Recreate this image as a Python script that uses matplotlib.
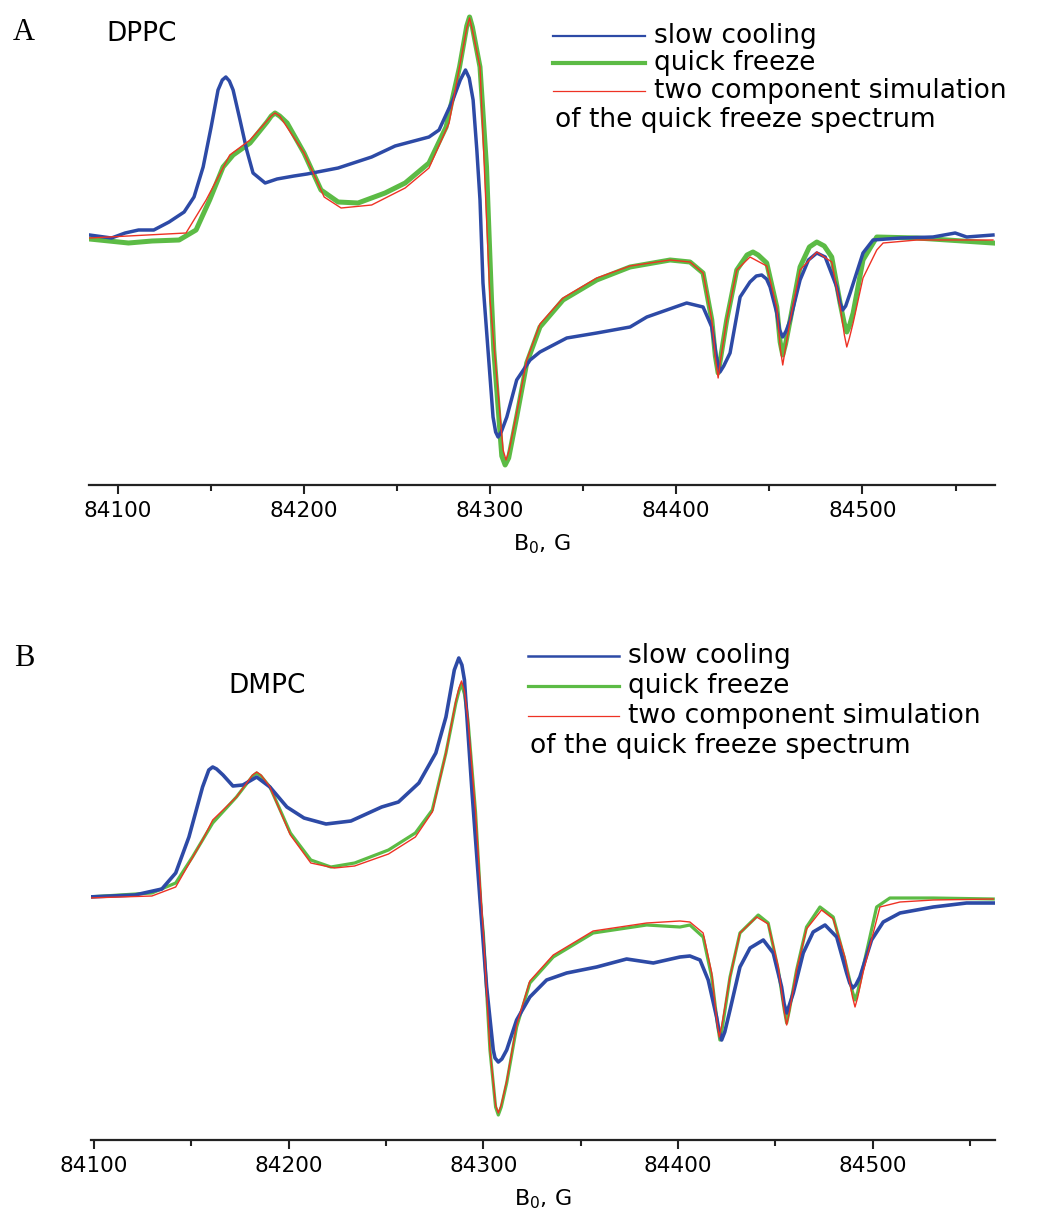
import matplotlib
matplotlib.use("Agg")
import matplotlib.pyplot as plt
from matplotlib.lines import Line2D
from matplotlib.ticker import MultipleLocator

plt.rcParams['font.family'] = ['DejaVu Sans']
plt.rcParams['mathtext.fontset'] = 'dejavusans'

# ---------------- Panel A (DPPC) ----------------
a_slow_B = [84084.9, 84096.7, 84104.0, 84111.2, 84119.4, 84127.6, 84135.7, 84141.0, 84145.9, 84150.2,
            84153.9, 84156.2, 84158.1, 84160.0, 84162.0, 84165.7, 84169.3, 84172.7, 84179.2, 84185.6,
            84194.7, 84201.7, 84218.4, 84236.4, 84249.0, 84267.2, 84272.6, 84280.0, 84284.0, 84286.8,
            84288.8, 84290.9, 84292.9, 84294.6, 84296.2, 84301.6, 84303.0, 84304.3, 84306.0, 84309.0,
            84314.3, 84321.5, 84326.8, 84341.2, 84357.3, 84375.2, 84384.2, 84394.9, 84405.6, 84414.4,
            84419.1, 84421.5, 84423.5, 84425.5, 84428.9, 84434.3, 84439.6, 84443.0, 84445.9, 84448.5,
            84450.4, 84454.0, 84455.5, 84457.2, 84459.0, 84461.2, 84466.5, 84471.0, 84475.5, 84480.0,
            84486.2, 84488.0, 84489.4, 84491.0, 84493.4, 84500.3, 84505.7, 84520.3, 84537.9, 84549.8,
            84556.0, 84570.1]
a_slow_I = [3, 0, 5, 8, 8, 16, 26, 41, 71, 111,
            148, 158, 161, 157, 148, 118, 88, 65, 55, 59,
            62, 64, 70, 81, 92, 101, 108, 138, 158, 168,
            160, 138, 88, 38, -45, -179, -194, -199, -194, -179,
            -142, -122, -114, -100, -95, -89, -79, -72, -65, -69,
            -89, -118, -134, -128, -115, -59, -44, -38, -37, -41,
            -49, -75, -92, -99, -93, -82, -42, -22, -15, -19,
            -49, -65, -72, -68, -55, -15, -2, 0, 1, 5,
            1, 3]

a_quick_B = [84084.9, 84105.8, 84118.5, 84133.0, 84142.1, 84149.4, 84156.6, 84162.0, 84171.1, 84180.2,
             84182.5, 84184.5, 84187.0, 84191.0, 84200.1, 84209.2, 84218.4, 84229.1, 84243.6, 84254.4,
             84267.2, 84276.4, 84283.6, 84287.5, 84289.0, 84290.5, 84294.6, 84298.1, 84300.8, 84302.0,
             84306.3, 84308.1, 84310.0, 84314.3, 84319.7, 84326.8, 84339.2, 84357.3, 84375.2, 84396.7,
             84407.4, 84414.4, 84419.1, 84421.0, 84422.5, 84424.0, 84427.1, 84432.5, 84438.0, 84441.2,
             84444.0, 84448.6, 84454.0, 84455.8, 84457.2, 84458.7, 84461.2, 84466.5, 84471.5, 84475.5,
             84479.5, 84483.5, 84488.0, 84490.2, 84491.6, 84493.0, 84495.0, 84500.3, 84507.7, 84529.2,
             84570.1]
a_quick_I = [-1, -5, -3, -2, 8, 38, 71, 83, 95, 116,
             122, 125, 122, 115, 85, 48, 36, 35, 45, 55,
             75, 111, 171, 212, 221, 211, 171, 71, -62, -112,
             -218, -227, -220, -179, -125, -89, -62, -42, -29, -22,
             -24, -35, -82, -118, -135, -118, -82, -32, -17, -14,
             -17, -25, -69, -104, -117, -106, -82, -29, -9, -4,
             -8, -19, -65, -85, -94, -88, -75, -22, 1, 0,
             -5]

a_sim_B = [84084.9, 84136.7, 84147.5, 84160.2, 84171.1, 84182.5, 84184.5, 84187.0, 84200.1, 84210.9,
           84220.0, 84236.4, 84254.4, 84267.2, 84278.0, 84287.5, 84289.0, 84290.5, 84294.6, 84300.0,
           84307.0, 84308.6, 84310.3, 84314.3, 84319.7, 84326.8, 84339.2, 84357.3, 84375.2, 84396.7,
           84407.4, 84414.4, 84419.1, 84421.2, 84422.5, 84423.8, 84427.1, 84432.5, 84439.6, 84448.6,
           84454.0, 84456.0, 84457.2, 84458.5, 84461.2, 84466.5, 84475.5, 84483.5, 84488.0, 84490.3,
           84491.6, 84493.0, 84495.0, 84500.3, 84507.7, 84511.1, 84529.2, 84570.1]
a_sim_I = [0, 5, 38, 83, 98, 122, 125, 122, 85, 41,
           30, 33, 50, 70, 115, 210, 220, 208, 171, -62,
           -212, -222, -212, -175, -122, -86, -60, -40, -28, -22,
           -24, -35, -82, -122, -140, -122, -82, -32, -19, -28,
           -70, -112, -127, -112, -82, -32, -14, -24, -68, -97,
           -109, -100, -85, -40, -12, -5, -2, -2]

# ---------------- Panel B (DMPC) ----------------
b_slow_B = [84096.8, 84121.1, 84134.9, 84142.0, 84148.8, 84155.8, 84159.0, 84161.0, 84163.0, 84166.3,
            84171.4, 84176.5, 84183.6, 84190.4, 84199.1, 84207.9, 84219.2, 84232.0, 84247.8, 84256.4,
            84266.9, 84275.6, 84280.8, 84285.1, 84287.4, 84289.0, 84290.3, 84294.2, 84298.3, 84301.7,
            84305.1, 84306.0, 84307.7, 84309.5, 84312.0, 84317.1, 84323.9, 84332.5, 84342.8, 84358.2,
            84373.6, 84387.3, 84401.0, 84406.1, 84411.3, 84415.5, 84419.8, 84421.0, 84422.4, 84424.0,
            84426.7, 84431.8, 84437.0, 84443.8, 84448.9, 84453.2, 84454.5, 84455.8, 84457.2, 84459.2,
            84464.3, 84469.4, 84475.5, 84481.5, 84486.6, 84488.2, 84489.7, 84491.3, 84493.4, 84499.4,
            84505.4, 84514.0, 84531.1, 84548.2, 84561.9]
b_slow_I = [0, 2, 8, 24, 60, 110, 127, 130, 128, 122,
            111, 112, 120, 110, 90, 79, 73, 76, 90, 95,
            114, 144, 180, 227, 239, 232, 217, 105, -3, -90,
            -153, -161, -165, -162, -153, -123, -100, -83, -76, -70,
            -62, -66, -60, -59, -63, -83, -120, -133, -143, -135,
            -113, -70, -51, -43, -56, -90, -107, -116, -108, -96,
            -56, -35, -28, -40, -76, -86, -91, -88, -80, -43,
            -25, -16, -10, -6, -6]

b_quick_B = [84096.8, 84129.8, 84142.0, 84150.6, 84161.0, 84173.2, 84181.5, 84183.6, 84185.8, 84190.4,
             84200.9, 84211.4, 84221.7, 84233.9, 84251.3, 84265.1, 84273.8, 84280.8, 84285.9, 84287.5,
             84288.8, 84290.3, 84292.1, 84296.0, 84299.0, 84300.0, 84303.4, 84306.3, 84307.7, 84309.2,
             84312.0, 84317.1, 84323.9, 84335.9, 84356.4, 84383.9, 84401.0, 84406.1, 84412.9, 84417.3,
             84420.3, 84421.5, 84422.8, 84426.7, 84431.8, 84441.2, 84446.3, 84451.5, 84454.5, 84455.8,
             84457.2, 84460.9, 84466.0, 84472.9, 84479.7, 84485.7, 84489.5, 84490.9, 84492.3, 84495.1,
             84502.0, 84508.8, 84531.1, 84561.9]
b_quick_I = [0, 4, 14, 40, 74, 100, 121, 124, 121, 110,
             64, 37, 30, 34, 47, 64, 87, 144, 194, 206,
             213, 203, 177, 85, -16, -36, -153, -210, -218, -210,
             -186, -130, -86, -60, -36, -28, -30, -28, -40, -80,
             -128, -143, -130, -80, -36, -18, -26, -73, -112, -126,
             -113, -73, -30, -10, -20, -63, -94, -103, -95, -70,
             -10, -1, -1, -2]

b_sim_B = [84096.8, 84129.8, 84142.0, 84155.8, 84161.0, 84173.2, 84181.5, 84183.6, 84185.8, 84190.4,
           84200.9, 84211.4, 84223.5, 84233.9, 84251.3, 84265.1, 84273.8, 84280.8, 84285.9, 84287.5,
           84288.8, 84290.3, 84292.1, 84296.0, 84300.0, 84303.4, 84306.3, 84307.7, 84309.2, 84312.0,
           84317.1, 84323.9, 84335.9, 84356.4, 84383.9, 84401.0, 84406.1, 84412.9, 84417.3, 84420.0,
           84421.2, 84422.5, 84426.7, 84431.8, 84440.4, 84446.3, 84451.5, 84454.5, 84455.8, 84457.2,
           84460.9, 84466.0, 84473.7, 84479.7, 84485.7, 84489.6, 84490.9, 84492.2, 84495.1, 84503.7,
           84514.0, 84531.1, 84561.9]
b_sim_I = [-1, 1, 10, 57, 77, 100, 122, 125, 122, 110,
           62, 34, 29, 31, 43, 60, 85, 144, 196, 209,
           216, 206, 178, 85, -36, -153, -208, -216, -208, -184,
           -128, -84, -58, -34, -26, -24, -25, -36, -76, -125,
           -140, -128, -80, -36, -20, -27, -70, -114, -128, -115,
           -73, -32, -13, -22, -60, -100, -110, -101, -75, -10,
           -5, -3, -2]

legend_labels = ["slow cooling", "quick freeze", "two component simulation"]
legend_extra = "of the quick freeze spectrum"

BLUE = "#2D4AA6"
GREEN = "#5CBB45"
RED = "#EE3224"

W, H = 1054, 1217
fig = plt.figure(figsize=(W / 100, H / 100), dpi=100)


def fx(x):
    return x / W


def fy(y):
    return 1 - y / H


def setup_axis(ax):
    for s in ("top", "left", "right"):
        ax.spines[s].set_visible(False)
    ax.spines["bottom"].set_linewidth(1.6)
    ax.spines["bottom"].set_color("#222222")
    ax.set_yticks([])
    ax.xaxis.set_major_locator(MultipleLocator(100))
    ax.xaxis.set_minor_locator(MultipleLocator(50))
    ax.tick_params(axis="x", which="major", length=6.5, width=1.5, direction="out",
                   labelsize=15.5, pad=5, colors="#222222", labelcolor="black")
    ax.tick_params(axis="x", which="minor", length=4.3, width=1.5, direction="out",
                   colors="#222222")
    ax.set_xlabel(r"B$_0$, G", fontsize=16, labelpad=8)
    ax.patch.set_alpha(0)


# Panel A axes
axA = fig.add_axes([fx(89), fy(485), fx(995) - fx(89), 485 / H])
axA.plot(a_quick_B, a_quick_I, color=GREEN, lw=3.6, solid_joinstyle="round", zorder=2)
axA.plot(a_slow_B, a_slow_I, color=BLUE, lw=2.5, solid_joinstyle="round", zorder=3)
axA.plot(a_sim_B, a_sim_I, color=RED, lw=1.0, solid_joinstyle="round", zorder=4)
axA.set_xlim(84084.6, 84571.2)
axA.set_ylim(238 - 485, 238)
setup_axis(axA)

# Panel B axes
axB = fig.add_axes([fx(91), fy(1140), fx(995) - fx(91), (1140 - 600) / H])
axB.plot(b_quick_B, b_quick_I, color=GREEN, lw=2.3, solid_joinstyle="round", zorder=2)
axB.plot(b_slow_B, b_slow_I, color=BLUE, lw=2.6, solid_joinstyle="round", zorder=3)
axB.plot(b_sim_B, b_sim_I, color=RED, lw=1.0, solid_joinstyle="round", zorder=4)
axB.set_xlim(84098.5, 84562.8)
axB.set_ylim(897 - 1140, 897 - 600)
setup_axis(axB)

# Panel letters and titles
fig.text(fx(24), fy(32), "A", family="Liberation Serif", fontsize=22, ha="center", va="center")
fig.text(fx(24), fy(658), "B", family="Liberation Serif", fontsize=22, ha="center", va="center")
fig.text(fx(142), fy(34), "DPPC", fontsize=19, ha="center", va="center")
fig.text(fx(267), fy(686), "DMPC", fontsize=19, ha="center", va="center")


def draw_legend(x0, x1, xt, ys, y4, x4, widths):
    cols = [BLUE, GREEN, RED]
    for lab, y, c, w in zip(legend_labels, ys, cols, widths):
        fig.add_artist(Line2D([fx(x0), fx(x1)], [fy(y), fy(y)], color=c, lw=w,
                              transform=fig.transFigure))
        fig.text(fx(xt), fy(y), lab, fontsize=19, ha="left", va="center")
    fig.text(fx(x4), fy(y4), legend_extra, fontsize=19, ha="left", va="center")


draw_legend(553, 645, 654, [36, 63, 91], 120, 555, [1.6, 3.0, 0.9])
draw_legend(528, 619, 628, [656, 686, 716], 746, 530, [1.8, 2.3, 0.9])

fig.savefig("out.png", dpi=100)
